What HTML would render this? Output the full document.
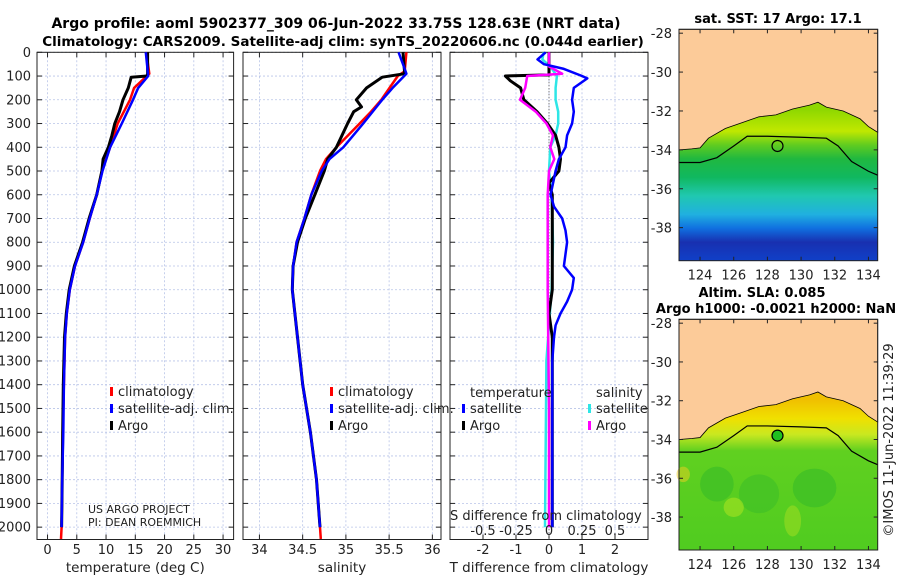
<!DOCTYPE html>
<html><head><meta charset="utf-8"><style>
body{margin:0;background:#fff;width:900px;height:580px;overflow:hidden}
svg{display:block;font-family:"DejaVu Sans","Liberation Sans",sans-serif}
.t{font-size:12px;fill:#222}
.b{font-weight:bold;font-size:13.5px;fill:#000}
</style></head><body>
<svg id="fig" width="900" height="580">
<text class="b" x="336" y="28" text-anchor="middle" style="font-size:14px">Argo profile: aoml 5902377_309 06-Jun-2022 33.75S 128.63E (NRT data)</text>
<text class="b" x="343" y="46" text-anchor="middle">Climatology: CARS2009. Satellite-adj clim: synTS_20220606.nc (0.044d earlier)</text>
<g id="p1"></g>
<g id="p2"></g>
<g id="p3"></g>
<g id="maps"></g>
<text class="t" x="0" y="0" transform="translate(893,440) rotate(-90)" text-anchor="middle" style="font-size:13px">©IMOS 11-Jun-2022 11:39:29</text>
</svg>
<script>
// ---- data ----
const depthTicks=[0,100,200,300,400,500,600,700,800,900,1000,1100,1200,1300,1400,1500,1600,1700,1800,1900,2000];
const tTicks=[0,5,10,15,20,25,30];
const sTicks=[34,34.5,35,35.5,36];
const dTicks=[-2,-1,0,1,2];
const dsTickLabels=["-0.5","-0.25","0","0.25","0.5"];
const dsTickVals=[-0.5,-0.25,0,0.25,0.5];
const tArgoD=[0,90,100,105,150,200,250,300,350,400,450,500,600,700,800,900,1000,1100,1200,1400,1600,1800,2000];
const tArgo=[17.1,17.1,17.0,14.3,13.8,12.9,12.3,11.5,11.0,10.4,9.5,9.3,8.4,7.1,6.0,4.6,3.7,3.2,2.9,2.7,2.6,2.5,2.4];
const tClimD=[0,90,150,200,300,400,500,600,700,800,900,1000,1100,1200,1400,1600,1800,2000,2050];
const tClim=[16.9,17.4,14.8,14.1,12.0,10.7,9.3,8.4,7.2,6.1,4.7,3.8,3.3,3.0,2.8,2.6,2.5,2.4,2.3];
const tSatD=[0,100,150,200,300,400,500,600,700,800,900,1000,1100,1200,1400,1600,1800,2000];
const tSat=[16.8,17.2,15.5,14.6,12.7,10.7,9.4,8.4,7.2,6.1,4.7,3.8,3.3,3.0,2.8,2.7,2.5,2.4];
const sArgoD=[0,90,105,150,200,230,250,300,400,450,500,600,700,800,900,1000,1100,1200,1400,1600,1800,2000];
const sArgo=[35.66,35.68,35.42,35.24,35.12,35.18,35.09,35.02,34.89,34.79,34.75,34.64,34.53,34.44,34.39,34.38,34.41,34.44,34.5,34.59,34.66,34.7];
const sClimD=[0,80,100,200,250,300,400,450,500,600,700,800,900,1000,1100,1200,1400,1600,1800,2000,2050];
const sClim=[35.7,35.68,35.6,35.41,35.29,35.16,34.89,34.77,34.7,34.6,34.52,34.43,34.39,34.38,34.41,34.44,34.5,34.59,34.66,34.7,34.71];
const sSatD=[0,50,90,150,200,300,400,450,500,600,700,800,900,1000,1100,1200,1400,1600,1800,2000];
const sSat=[35.61,35.66,35.7,35.54,35.42,35.2,34.97,34.81,34.72,34.6,34.52,34.43,34.39,34.38,34.41,34.44,34.5,34.59,34.66,34.7];
const dtSatD=[0,30,50,70,100,110,150,200,250,300,350,400,450,500,600,650,700,750,800,850,900,950,1000,1050,1100,1150,1200,1300,2000];
const dtSat=[-0.1,-0.35,-0.15,0.45,1.0,1.16,0.75,0.7,0.75,0.7,0.55,0.5,0.3,0.2,0.05,0.15,0.4,0.5,0.55,0.5,0.45,0.75,0.7,0.55,0.35,0.2,0.15,0.1,0.1];
const dtArgoD=[0,95,100,120,150,200,250,300,350,400,450,500,550,600,800,1000,1100,1200,1500,2000];
const dtArgo=[0,0,-1.32,-1.17,-0.86,-0.76,-0.36,-0.05,0.2,0.3,0.35,0.3,0.0,0.1,0.1,0.1,0.0,0.1,0.1,0.1];
const dsSatD=[0,30,60,100,150,200,250,300,350,400,500,600,800,1000,1300,2000];
const dsSat=[-0.04,-0.05,0.01,0.06,0.05,0.05,0.07,0.07,0.05,0.01,0.0,0.02,0.03,0.02,-0.02,-0.03];
const dsArgoD=[0,60,90,100,150,200,250,300,350,400,450,500,600,1000,1500,2000];
const dsArgo=[0,0,0.1,-0.165,-0.18,-0.22,-0.1,-0.02,0.03,0.01,0.04,0.0,-0.01,-0.01,0.0,0.0];

const NS='http://www.w3.org/2000/svg';
function mk(tag,at,parent){const e=document.createElementNS(NS,tag);for(const k in at)e.setAttribute(k,at[k]);parent.appendChild(e);return e;}
const yTop=52.3,yBot=539.5,dmax=2052;
function yD(d){return yTop+d/dmax*(yBot-yTop);}

function panel(g,x0,x1,vmin,vmax,xt,xlab,xlabel,showY){
  const sx=v=>x0+(v-vmin)/(vmax-vmin)*(x1-x0);
  xt.forEach((v,i)=>{const l=mk('line',{x1:sx(v),x2:sx(v),y1:yTop,y2:yBot,stroke:'#b8c4e8','stroke-width':0.8,'stroke-dasharray':'2,2'},g);
    
    mk('line',{x1:sx(v),x2:sx(v),y1:yBot,y2:yBot-5,stroke:'#222'},g);mk('line',{x1:sx(v),x2:sx(v),y1:yTop,y2:yTop+5,stroke:'#222'},g);
    const t=mk('text',{x:sx(v),y:554,class:'t','text-anchor':'middle',style:'font-size:13px'},g);t.textContent=xlab?xlab[i]:v;
    });
  depthTicks.forEach(d=>{const l=mk('line',{x1:x0,x2:x1,y1:yD(d),y2:yD(d),stroke:'#b8c4e8','stroke-width':0.8,'stroke-dasharray':'2,2'},g);
    
    mk('line',{x1:x0,x2:x0+5,y1:yD(d),y2:yD(d),stroke:'#222'},g);mk('line',{x1:x1,x2:x1-5,y1:yD(d),y2:yD(d),stroke:'#222'},g);
    if(showY){const t=mk('text',{x:31,y:yD(d)+4.5,class:'t','text-anchor':'end',style:'font-size:13px'},g);t.textContent=d;
      }});
  const r=mk('rect',{x:x0,y:yTop,width:x1-x0,height:yBot-yTop,fill:'none',stroke:'#222','stroke-width':1},g);
  
  const xl=mk('text',{x:(x0+x1)/2,y:572,class:'t','text-anchor':'middle',style:'font-size:13.5px'},g);xl.textContent=xlabel;
  
  return sx;
}
function line(g,sx,D,V,col,w,name){
  const p=mk('polyline',{points:D.map((d,i)=>sx(V[i]).toFixed(1)+','+yD(d).toFixed(1)).join(' '),fill:'none',stroke:col,'stroke-width':w,'stroke-linejoin':'round'},g);
  
}
function leg(g,x,y,col,txt){
  mk('rect',{x:x,y:y-9,width:3,height:9,fill:col},g);
  const t=mk('text',{x:x+8,y:y,class:'t',style:'font-size:13px'},g);t.textContent=txt;
  
}
const p1=document.getElementById('p1'),p2=document.getElementById('p2'),p3=document.getElementById('p3');
let sx=panel(p1,37,233.6,-1.8,31.8,tTicks,null,'temperature (deg C)',true);
line(p1,sx,tClimD,tClim,'#f00',2.5,'climatology-temperature-line');
line(p1,sx,tArgoD,tArgo,'#000',3,'argo-temperature-line');
line(p1,sx,tSatD,tSat,'#00f',2.5,'satellite-temperature-line');
leg(p1,110,396,'#f00','climatology');leg(p1,110,413,'#00f','satellite-adj. clim.');leg(p1,110,430,'#000','Argo');
let t1=mk('text',{x:88,y:513,class:'t',style:'font-size:11px'},p1);t1.textContent='US ARGO PROJECT';

let t2=mk('text',{x:88,y:526,class:'t',style:'font-size:11px'},p1);t2.textContent='PI: DEAN ROEMMICH';


sx=panel(p2,243,441,33.81,36.1,sTicks,null,'salinity',false);
line(p2,sx,sClimD,sClim,'#f00',2.5,'climatology-salinity-line');
line(p2,sx,sArgoD,sArgo,'#000',3,'argo-salinity-line');
line(p2,sx,sSatD,sSat,'#00f',2.5,'satellite-salinity-line');
leg(p2,330,396,'#f00','climatology');leg(p2,330,413,'#00f','satellite-adj. clim.');leg(p2,330,430,'#000','Argo');

sx=panel(p3,450,648,-3,3,dTicks,null,'T difference from climatology',false);
const ss=v=>sx(v*4);
mk('line',{x1:sx(0),x2:sx(0),y1:yTop,y2:yBot,stroke:'#555','stroke-dasharray':'1,2'},p3);
line(p3,ss,dsSatD,dsSat,'#2ee6e6',2.5,'satellite-salinity-diff-line');
line(p3,sx,dtArgoD,dtArgo,'#000',3,'argo-temperature-diff-line');
line(p3,ss,dsArgoD,dsArgo,'#f0f',2.5,'argo-salinity-diff-line');
line(p3,sx,dtSatD,dtSat,'#00f',2.5,'satellite-temperature-diff-line');
let lt=mk('text',{x:470,y:397,class:'t',style:'font-size:13px'},p3);lt.textContent='temperature';

let ls=mk('text',{x:596,y:397,class:'t',style:'font-size:13px'},p3);ls.textContent='salinity';

leg(p3,462,413,'#00f','satellite');leg(p3,462,430,'#000','Argo');leg(p3,588,413,'#2ee6e6','satellite');leg(p3,588,430,'#f0f','Argo');
let sl=mk('text',{x:450,y:520,class:'t',style:'font-size:13px'},p3);sl.textContent='S difference from climatology';

dsTickVals.forEach((v,i)=>{const t=mk('text',{x:ss(v),y:535,class:'t','text-anchor':'middle',style:'font-size:13px'},p3);t.textContent=dsTickLabels[i];
  });

// ---- maps ----
const mapLonTicks=[124,126,128,130,132,134];
const mapLatTicks=[-28,-30,-32,-34,-36,-38];
const coast=[[122.75,-34.0],[123.5,-33.95],[124,-33.9],[124.5,-33.4],[125.5,-32.9],[126.5,-32.6],[127.5,-32.3],[128.5,-32.2],[129.5,-31.9],[130.5,-31.7],[131,-31.55],[131.5,-31.8],[132.5,-32.0],[133.5,-32.4],[134,-32.8],[134.55,-33.1]];
const iso=[[122.75,-34.65],[124,-34.65],[125,-34.4],[126,-33.8],[126.8,-33.3],[128,-33.3],[130,-33.35],[131.5,-33.4],[132.2,-33.8],[133,-34.6],[134,-35.1],[134.55,-35.3]];
const argoPos=[128.6,-33.8];
const M=document.getElementById('maps');
const defs=mk('defs',{},M);
function grad(id,stops){const g=mk('linearGradient',{id:id,x1:0,y1:0,x2:0,y2:1},defs);stops.forEach(s=>mk('stop',{offset:s[0],'stop-color':s[1]},g));}
grad('sst',[[0.35,'#90d800'],[0.44,'#c0e800'],[0.5,'#60cc20'],[0.56,'#20b840'],[0.64,'#10b860'],[0.72,'#20c8b0'],[0.8,'#20b0e0'],[0.86,'#1070e0'],[0.92,'#1830b0'],[1,'#1040c8']]);
grad('sla',[[0.35,'#f0c000'],[0.43,'#f0e000'],[0.5,'#c8e820'],[0.57,'#60d020'],[1,'#50cc20']]);
function map(x0,x1,y0,y1,latTop,latBot,fillId){
  const lx=l=>x0+(l-122.75)/(134.55-122.75)*(x1-x0);
  const ly=l=>y0+(latTop-l)/(latTop-latBot)*(y1-y0);
  const g=mk('g',{},M);
  mk('rect',{x:x0,y:y0,width:x1-x0,height:y1-y0,fill:'url(#'+fillId+')'},g);
  if(fillId==='sla'){[[125,-36.3,1.0,0.9,'#30b828'],[127.5,-36.8,1.2,1.0,'#38bc28'],[130.8,-36.5,1.3,1.0,'#30b828'],[126,-37.5,0.6,0.5,'#b8e820'],[123,-35.8,0.4,0.4,'#f0d020'],[129.5,-38.2,0.5,0.8,'#a8e020']].forEach(b=>mk('ellipse',{cx:lx(b[0]),cy:ly(b[1]),rx:b[2]*16.8,ry:b[3]*19.4,fill:b[4],opacity:0.5},g));}
  const pts=coast.map(p=>lx(p[0])+','+ly(p[1])).join(' ')+' '+x1+','+y0+' '+x0+','+y0;
  const land=mk('polygon',{points:pts,fill:'#fccb99',stroke:'#000','stroke-width':0.8},g);
  
  const is=mk('polyline',{points:iso.map(p=>lx(p[0])+','+ly(p[1])).join(' '),fill:'none',stroke:'#000','stroke-width':1.2},g);
  
  const c=mk('circle',{cx:lx(argoPos[0]),cy:ly(argoPos[1]),r:5.5,fill:fillId==='sla'?'#20c020':'none',stroke:'#000','stroke-width':1.2},g);
  
  mk('rect',{x:x0,y:y0,width:x1-x0,height:y1-y0,fill:'none',stroke:'#222'},g);
  mapLonTicks.forEach(v=>{mk('line',{x1:lx(v),x2:lx(v),y1:y1,y2:y1-4,stroke:'#222'},g);mk('line',{x1:lx(v),x2:lx(v),y1:y0,y2:y0+4,stroke:'#222'},g);
    const t=mk('text',{x:lx(v),y:y1+19,class:'t','text-anchor':'middle',style:'font-size:13px'},g);t.textContent=v;
    });
  mapLatTicks.forEach(v=>{mk('line',{x1:x0,x2:x0+4,y1:ly(v),y2:ly(v),stroke:'#222'},g);mk('line',{x1:x1,x2:x1-4,y1:ly(v),y2:ly(v),stroke:'#222'},g);
    const t=mk('text',{x:x0-7,y:ly(v)+5,class:'t','text-anchor':'end',style:'font-size:13px'},g);t.textContent=v;
    });
}
map(679,877.7,29.3,260.7,-27.8,-39.7,'sst');
map(679,877.7,319.3,550,-27.8,-39.7,'sla');
[['sat. SST: 17 Argo: 17.1',778,23,'sst-map-title'],['Altim. SLA: 0.085',762,297,'sla-map-title'],['Argo h1000: -0.0021 h2000: NaN',776,313,'sla-map-subtitle']].forEach(a=>{
  const t=mk('text',{x:a[1],y:a[2],class:'b','text-anchor':'middle',style:'font-size:13px'},M);t.textContent=a[0];
  });
</script>
</body></html>
